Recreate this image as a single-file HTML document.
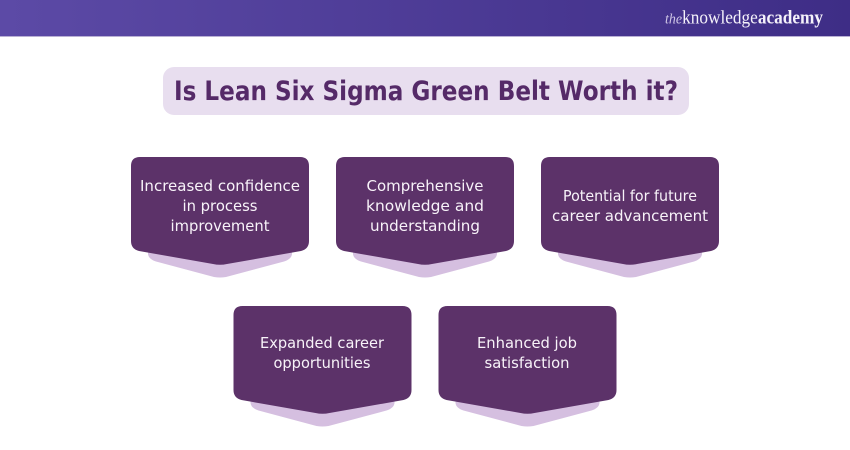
<!DOCTYPE html>
<html><head><meta charset="utf-8"><style>
html,body{margin:0;padding:0;background:#fff}
svg{display:block}
.t{font-family:"DejaVu Sans",sans-serif;font-size:15px;fill:#f8f3f9;text-anchor:middle}
.h{font-family:"DejaVu Sans",sans-serif;font-size:27px;font-weight:bold;fill:#552a68}
.l{font-family:"Liberation Serif",serif;font-size:18.500px;fill:#f5f2fa}
</style></head><body>
<svg width="850" height="450" viewBox="0 0 850 450" xmlns="http://www.w3.org/2000/svg">
<defs>
<linearGradient id="g" x1="0" x2="1" y1="0" y2="0"><stop offset="0" stop-color="#5c4aa6"/><stop offset="1" stop-color="#3e2d86"/></linearGradient>
<g id="c">
<path d="M17 90 V97 Q17.500 102 25 104.500 L83 120 Q89 121 95 120 L153 104.500 Q160.500 102 161 97 V90 Z" fill="#d5bfe0"/>
<path d="M9 0 H169 Q178 0 178 9 V84 Q178 92 170 94 L96 107 Q89 108.500 82 107 L8 94 Q0 92 0 84 V9 Q0 0 9 0 Z" fill="#5c3269"/>
</g>
</defs>
<rect width="850" height="36" fill="url(#g)"/>
<rect y="36" width="850" height="1" fill="#b9b0d4"/>
<text x="665" y="23.500" class="l" textLength="158" lengthAdjust="spacingAndGlyphs"><tspan font-style="italic" font-size="15" fill="#cfc6e6">the</tspan>knowledge<tspan font-weight="bold">academy</tspan></text>
<rect x="163" y="67" width="526" height="48" rx="11" fill="#e8deef"/>
<text x="174" y="100" class="h" textLength="504" lengthAdjust="spacingAndGlyphs">Is Lean Six Sigma Green Belt Worth it?</text>
<use href="#c" x="131" y="157"/>
<use href="#c" x="336" y="157"/>
<use href="#c" x="541" y="157"/>
<use href="#c" x="233.500" y="306"/>
<use href="#c" x="438.500" y="306"/>
<text class="t" x="220" y="191" textLength="160" lengthAdjust="spacingAndGlyphs">Increased confidence</text>
<text class="t" x="220" y="211" textLength="75" lengthAdjust="spacingAndGlyphs">in process</text>
<text class="t" x="220" y="231" textLength="99" lengthAdjust="spacingAndGlyphs">improvement</text>
<text class="t" x="425" y="191" textLength="117" lengthAdjust="spacingAndGlyphs">Comprehensive</text>
<text class="t" x="425" y="211" textLength="118" lengthAdjust="spacingAndGlyphs">knowledge and</text>
<text class="t" x="425" y="231" textLength="110" lengthAdjust="spacingAndGlyphs">understanding</text>
<text class="t" x="630" y="201" textLength="134" lengthAdjust="spacingAndGlyphs">Potential for future</text>
<text class="t" x="630" y="221" textLength="156" lengthAdjust="spacingAndGlyphs">career advancement</text>
<text class="t" x="322" y="348" textLength="124" lengthAdjust="spacingAndGlyphs">Expanded career</text>
<text class="t" x="322" y="368" textLength="97" lengthAdjust="spacingAndGlyphs">opportunities</text>
<text class="t" x="527" y="348" textLength="100" lengthAdjust="spacingAndGlyphs">Enhanced job</text>
<text class="t" x="527" y="368" textLength="85" lengthAdjust="spacingAndGlyphs">satisfaction</text>
</svg>
</body></html>
